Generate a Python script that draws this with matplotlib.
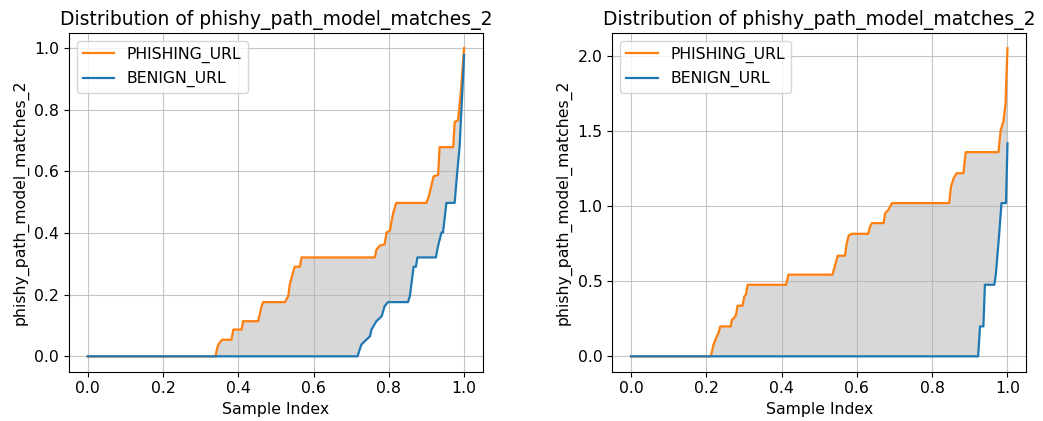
import numpy as np
import matplotlib
matplotlib.use("Agg")
import matplotlib.pyplot as plt

# values (sorted feature value vs normalised sample index)
left_phish_x = [0, 0.340, 0.342, 0.347, 0.357, 0.382, 0.387, 0.409, 0.413, 0.453, 0.462, 0.466,
                0.524, 0.533, 0.537, 0.550, 0.564, 0.568, 0.763, 0.767, 0.776, 0.789, 0.794,
                0.803, 0.807, 0.812, 0.820, 0.900, 0.907, 0.913, 0.919, 0.931, 0.935, 0.971,
                0.975, 0.984, 0.991, 1.0]
left_phish_y = [0, 0, 0.016, 0.038, 0.054, 0.054, 0.087, 0.087, 0.114, 0.114, 0.163, 0.176,
                0.176, 0.196, 0.234, 0.291, 0.291, 0.321, 0.321, 0.346, 0.359, 0.364, 0.402,
                0.408, 0.435, 0.467, 0.498, 0.498, 0.522, 0.554, 0.584, 0.589, 0.679, 0.679,
                0.761, 0.766, 0.853, 1.0]
left_benign_x = [0, 0.717, 0.721, 0.727, 0.736, 0.750, 0.754, 0.767, 0.781, 0.789, 0.798, 0.851,
                 0.856, 0.860, 0.866, 0.872, 0.876, 0.925, 0.931, 0.940, 0.944, 0.953, 0.975,
                 0.981, 0.988, 0.997, 1.0]
left_benign_y = [0, 0, 0.016, 0.038, 0.049, 0.065, 0.087, 0.114, 0.130, 0.163, 0.176, 0.176,
                 0.196, 0.234, 0.291, 0.291, 0.321, 0.321, 0.359, 0.402, 0.402, 0.498, 0.498,
                 0.587, 0.679, 0.900, 0.978]

right_phish_x = [0, 0.211, 0.214, 0.219, 0.226, 0.232, 0.237, 0.265, 0.268, 0.274, 0.279, 0.283,
                 0.296, 0.301, 0.305, 0.310, 0.412, 0.418, 0.535, 0.540, 0.549, 0.568, 0.573,
                 0.578, 0.586, 0.630, 0.635, 0.640, 0.671, 0.675, 0.684, 0.693, 0.845, 0.850,
                 0.857, 0.865, 0.883, 0.889, 0.976, 0.982, 0.989, 0.995, 0.996, 1.0]
right_phish_y = [0, 0, 0.022, 0.078, 0.122, 0.155, 0.199, 0.199, 0.244, 0.255, 0.277, 0.337,
                 0.337, 0.399, 0.410, 0.476, 0.476, 0.543, 0.543, 0.587, 0.669, 0.669, 0.753,
                 0.802, 0.815, 0.815, 0.864, 0.886, 0.886, 0.952, 0.975, 1.019, 1.019, 1.130,
                 1.185, 1.218, 1.218, 1.358, 1.358, 1.506, 1.559, 1.683, 1.772, 2.049]
right_benign_x = [0, 0.922, 0.927, 0.936, 0.940, 0.965, 0.969, 0.978, 0.984, 0.996, 1.0]
right_benign_y = [0, 0, 0.199, 0.199, 0.476, 0.476, 0.543, 0.815, 1.019, 1.019, 1.417]

feature = "phishy_path_model_matches_2"
panels = [(left_phish_x, left_phish_y, left_benign_x, left_benign_y),
          (right_phish_x, right_phish_y, right_benign_x, right_benign_y)]

plt.rcParams['font.size'] = 11.3

fig = plt.figure(figsize=(10.43, 4.21), dpi=100)
axes = [fig.add_axes([0.066, 0.117, 0.397, 0.805]),
        fig.add_axes([0.587, 0.117, 0.397, 0.805])]

for ax, (px, py, bx, by) in zip(axes, panels):
    # shaded gap between the two curves
    ax.fill(np.concatenate([px, bx[::-1]]), np.concatenate([py, by[::-1]]),
            color='gray', alpha=0.3, lw=0)
    ax.plot(px, py, color='#ff7f0e', lw=1.6, label='PHISHING_URL')
    ax.plot(bx, by, color='#1f77b4', lw=1.6, label='BENIGN_URL')
    ax.set_title("Distribution of " + feature, fontsize=13.5)
    ax.set_xlabel("Sample Index")
    ax.set_ylabel(feature)
    ax.grid(True, alpha=0.75)
    ax.legend(loc='upper left')

fig.savefig("out.png", dpi=100)
